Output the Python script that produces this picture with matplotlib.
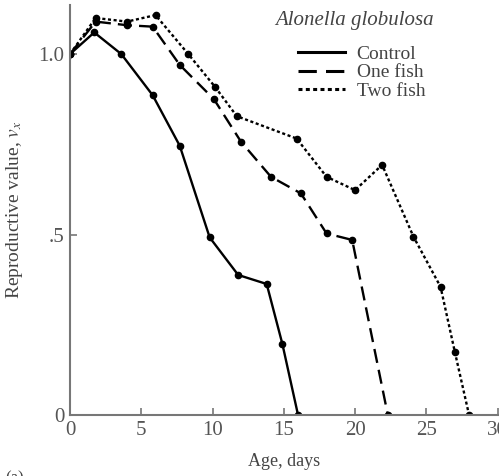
import matplotlib
matplotlib.use("Agg")
import matplotlib.pyplot as plt

# Data
control_x = [0, 1.7, 3.6, 5.8, 7.7, 9.8, 11.8, 13.8, 14.9, 16.0]
control_y = [1.0, 1.06, 1.0, 0.886, 0.746, 0.492, 0.388, 0.363, 0.197, 0.0]

one_x = [0, 1.8, 4.0, 5.8, 7.7, 10.1, 12.0, 14.1, 16.2, 18.0, 19.8, 22.3]
one_y = [1.0, 1.09, 1.08, 1.076, 0.97, 0.875, 0.757, 0.66, 0.614, 0.503, 0.485, 0.0]

two_x = [0, 1.8, 4.0, 6.0, 8.3, 10.2, 11.7, 15.9, 18.0, 20.0, 21.9, 24.1, 26.0, 27.0, 28.0]
two_y = [1.0, 1.10, 1.09, 1.108, 1.0, 0.908, 0.828, 0.766, 0.66, 0.623, 0.693, 0.494, 0.355, 0.175, 0.0]

xticks = [0, 5, 10, 15, 20, 25, 30]
yticks = [0, 0.5, 1.0]
yticklabels = ["0", ".5", "1.0"]

plt.rcParams['font.family'] = ['Liberation Serif', 'DejaVu Serif']
plt.rcParams['mathtext.fontset'] = 'stix'

fig = plt.figure(figsize=(4.99, 4.76), dpi=100)
ax = fig.add_axes([70/499, 1-415/476, 1-70/499, (415-5)/476])

ax.plot(control_x, control_y, color='black', lw=1.7, ls='-', marker='o', ms=4.5, label='Control')
ax.plot(one_x, one_y, color='black', lw=1.7, ls=(0, (6, 3)), marker='o', ms=4.5, label='One fish')
ax.plot(two_x, two_y, color='black', lw=1.7, ls=(0, (1.3, 1.1)), marker='o', ms=4.5, label='Two fish')

ax.set_xlim(0, 30.1)
ax.set_ylim(0, 1.136)
ax.set_xticks(xticks)
ax.set_yticks(yticks)
ax.set_yticklabels(yticklabels)

for s in ['top', 'right']:
    ax.spines[s].set_visible(False)
for s in ['left', 'bottom']:
    ax.spines[s].set_color('#777777')
    ax.spines[s].set_linewidth(1.5)
ax.tick_params(direction='in', length=5, width=1.2, color='#777777',
               labelsize=15, labelcolor='#555555', pad=4)

ax.set_xlabel('Age, days', fontsize=13, color='#444444', labelpad=10)
ax.set_ylabel(r'Reproductive value, $v_x$', fontsize=14, color='#444444', labelpad=10)

ax.text(0.848, 0.962, 'Alonella globulosa', transform=ax.transAxes, fontsize=15,
        style='italic', color='#444444', ha='right', va='center')
leg = ax.legend(loc='upper right', bbox_to_anchor=(0.86, 0.935), frameon=False,
                fontsize=14, handlelength=2.4, handletextpad=0.6, labelspacing=0.05,
                borderpad=0.2)
for t in leg.get_texts():
    t.set_color('#444444')
for h in leg.get_lines():
    h.set_marker('')
    h.set_linewidth(2.2)

fig.text(0.01, -0.005, '(a)', fontsize=12, color='#444444', ha='left', va='center')

fig.savefig('out.png', dpi=100)
